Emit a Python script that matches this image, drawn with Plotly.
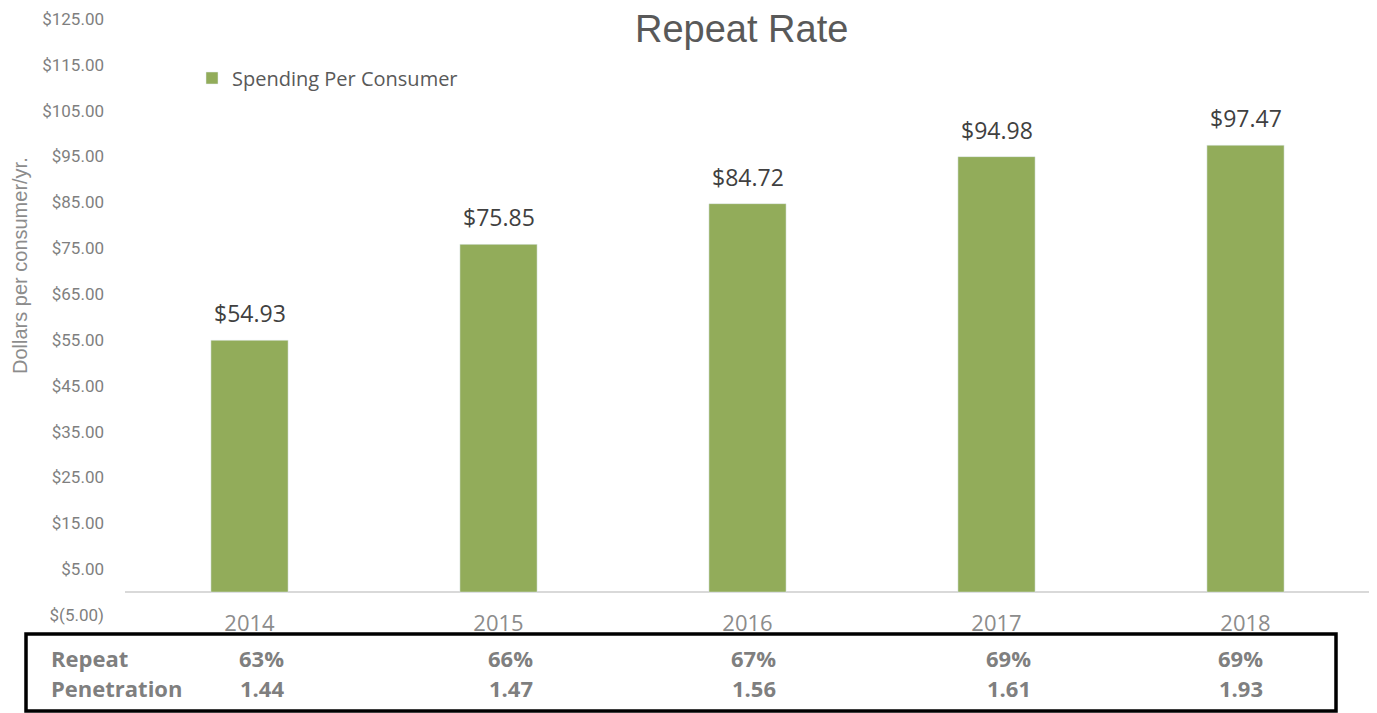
import plotly.graph_objects as go

years = ['2014', '2015', '2016', '2017', '2018']
spending = [54.93, 75.85, 84.72, 94.98, 97.47]
repeat_rate = ['63%', '66%', '67%', '69%', '69%']
penetration = ['1.44', '1.47', '1.56', '1.61', '1.93']

tick_vals = [-5, 5, 15, 25, 35, 45, 55, 65, 75, 85, 95, 105, 115, 125]
tick_text = ['$(5.00)'] + [f'${v:.2f}' for v in tick_vals[1:]]

# page body adds an 8px margin around the figure
OFF = 8
W, H = 1377 - OFF, 713 - OFF
L, R, T, B = 125 - OFF, 7, 19 - OFF, 98
pw, ph = W - L - R, H - T - B


# screen pixel -> paper coords
def px(x):
    return (x - OFF - L) / pw


def py(y):
    return (H - B - (y - OFF)) / ph


green = '#92ac5a'
grey = '#7f7f7f'
label_font = "'Segoe UI', 'Open Sans', 'Noto Sans', sans-serif"
tick_font = "'Liberation Sans Narrow', 'Arial Narrow', 'Roboto', sans-serif"

fig = go.Figure()

fig.add_trace(go.Bar(
    x=years,
    y=spending,
    name='Spending Per Consumer',
    marker_color=green,
    width=0.31,
))

annotations = [
    dict(text='Repeat Rate', x=px(741), y=py(29), xref='paper', yref='paper',
         showarrow=False, font=dict(size=38, color='#595959', family='Liberation Sans, Arial, sans-serif'),
         xanchor='center', yanchor='middle'),
    dict(text='Dollars per consumer/yr.', x=px(20), y=py(266), xref='paper', yref='paper',
         showarrow=False, textangle=-90, font=dict(size=20, color='#8c8c8c', family='Liberation Sans, Arial, sans-serif'),
         xanchor='center', yanchor='middle'),
    dict(text='<b>Repeat</b>', x=px(49), y=py(658), xref='paper', yref='paper',
         showarrow=False, xanchor='left', yanchor='middle',
         font=dict(size=22, color=grey, family=label_font)),
    dict(text='<b>Penetration</b>', x=px(49), y=py(688), xref='paper', yref='paper',
         showarrow=False, xanchor='left', yanchor='middle',
         font=dict(size=22, color=grey, family=label_font)),
]

# data labels above bars
for i, v in enumerate(spending):
    annotations.append(dict(text=f'${v:.2f}', x=i, y=v, xref='x', yref='y',
                            yshift=27, showarrow=False, yanchor='middle',
                            font=dict(size=23, color='#404040', family=label_font)))

# table under the chart
shifts = [12, 12, 6, 12, -5]
for i, (rr, pen, sh) in enumerate(zip(repeat_rate, penetration, shifts)):
    annotations.append(dict(text=f'<b>{rr}</b>', x=i, y=py(658), xref='x', yref='paper',
                            xshift=sh, showarrow=False, yanchor='middle',
                            font=dict(size=22, color=grey, family=label_font)))
    annotations.append(dict(text=f'<b>{pen}</b>', x=i, y=py(688), xref='x', yref='paper',
                            xshift=sh, showarrow=False, yanchor='middle',
                            font=dict(size=22, color=grey, family=label_font)))

fig.add_shape(type='rect', xref='paper', yref='paper',
              x0=px(26), x1=px(1336), y0=py(711), y1=py(634),
              line=dict(color='black', width=3.5), fillcolor='rgba(0,0,0,0)')

fig.update_layout(
    width=W, height=H,
    margin=dict(l=L, r=R, t=T, b=B, autoexpand=False),
    paper_bgcolor='white', plot_bgcolor='white',
    showlegend=True,
    legend=dict(x=px(192), y=py(78), xanchor='left', yanchor='middle',
                font=dict(size=20, color='#595959', family=label_font),
                bgcolor='rgba(0,0,0,0)', itemwidth=30),
    annotations=annotations,
)

fig.update_xaxes(
    type='category', range=[-0.5, 4.5], showgrid=False, showline=False, ticks='',
    tickfont=dict(size=22, color='#8c8c8c', family=label_font), ticklabelstandoff=-7,
)

fig.update_yaxes(
    range=[-5, 125], tickvals=tick_vals, ticktext=tick_text, showgrid=False,
    zeroline=True, zerolinecolor='#d9d9d9', zerolinewidth=1.5,
    tickfont=dict(size=17, color='#7f7f7f', family=tick_font), ticklabelstandoff=20,
)

fig.write_html('out.html')
